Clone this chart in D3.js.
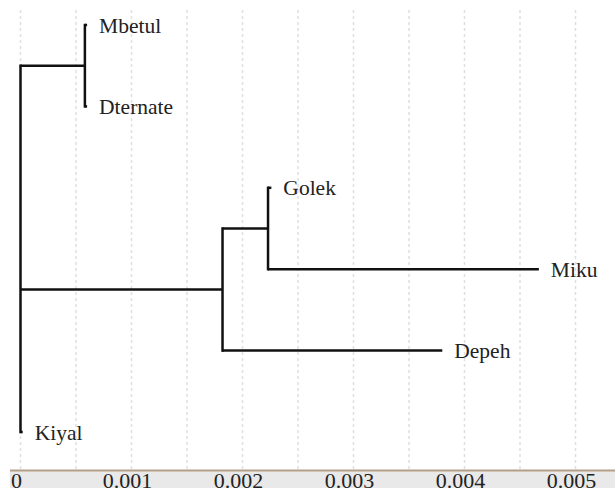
<!DOCTYPE html>
<html>
<head>
<meta charset="utf-8">
<script src="https://cdn.jsdelivr.net/npm/d3@7/dist/d3.min.js"></script>
<style>
html,body{margin:0;padding:0;background:#fff;}
svg{display:block;}
svg text{font-family:"Liberation Serif","Times New Roman",Times,serif;}
</style>
</head>
<body>
<svg id="chart" width="615" height="488"></svg>
<script>
// ---- data ----
const nodeNames     = ["root", "n1", "Mbetul", "Dternate", "n2", "n3", "Golek", "Miku", "Depeh", "Kiyal"];
const nodeParents   = [null, "root", "n1", "n1", "root", "n2", "n3", "n3", "n2", "root"];
const branchLengths = [0, 0.00058, 0.00002, 0.00002, 0.00182, 0.00041, 0.00003, 0.00244, 0.00198, 0.00002];
const tickValues    = [0, 0.001, 0.002, 0.003, 0.004, 0.005];
const tickLabels    = ["0", "0.001", "0.002", "0.003", "0.004", "0.005"];
const gridValues    = [0, 0.0005, 0.001, 0.0015, 0.002, 0.0025, 0.003, 0.0035, 0.004, 0.0045, 0.005];

const W = 615, H = 488;
const svg = d3.select("#chart");

const rows = nodeNames.map((n, i) => ({id: n, parent: nodeParents[i], len: branchLengths[i]}));
const root = d3.stratify().id(d => d.id).parentId(d => d.parent)(rows);
root.each(d => { d.dist = (d.parent ? d.parent.dist : 0) + d.data.len; });

const leaves = root.leaves();
const x = d3.scaleLinear().domain([0, 0.005]).range([20.5, 575.5]);
const y = d3.scalePoint().domain(leaves.map(d => d.id)).range([25, 432]);

root.eachAfter(d => {
  if (!d.children) d.py = y(d.id);
  else d.py = (d.children[0].py + d.children[d.children.length - 1].py) / 2;
  d.px = x(d.dist);
});

// grid
svg.append("g").selectAll("line").data(gridValues).join("line")
  .attr("x1", d => x(d)).attr("x2", d => x(d))
  .attr("y1", 10).attr("y2", 469)
  .attr("stroke", "#e0e0e0").attr("stroke-width", 1.5)
  .attr("stroke-dasharray", "3,3");

// axis band
svg.append("rect").attr("x", 10).attr("y", 471).attr("width", W - 10).attr("height", H - 471)
  .attr("fill", "#e9e9e9");
svg.append("line").attr("x1", 10).attr("x2", W).attr("y1", 470.5).attr("y2", 470.5)
  .attr("stroke", "#b39f86").attr("stroke-width", 2);

svg.append("g").selectAll("text").data(tickValues).join("text")
  .attr("x", d => x(d) - 4).attr("y", 488)
  .attr("text-anchor", "middle")
  .attr("font-size", 22).attr("fill", "#222")
  .text((d, i) => tickLabels[i]);

// tree
const g = svg.append("g").attr("fill", "none").attr("stroke", "#111").attr("stroke-width", 2.5);
root.descendants().filter(d => d.children).forEach(d => {
  const c = d.children;
  g.append("line").attr("x1", d.px).attr("x2", d.px)
    .attr("y1", c[0].py).attr("y2", c[c.length - 1].py)
    .attr("stroke-linecap", "square");
});
root.descendants().filter(d => d.parent).forEach(d => {
  g.append("line").attr("x1", d.parent.px).attr("x2", d.px)
    .attr("y1", d.py).attr("y2", d.py);
});

// leaf labels
svg.append("g").selectAll("text").data(leaves).join("text")
  .attr("x", d => d.px + 12).attr("y", d => d.py)
  .attr("dy", "0.35em")
  .attr("font-size", 21.5).attr("fill", "#222")
  .text(d => d.id);
</script>
</body>
</html>
